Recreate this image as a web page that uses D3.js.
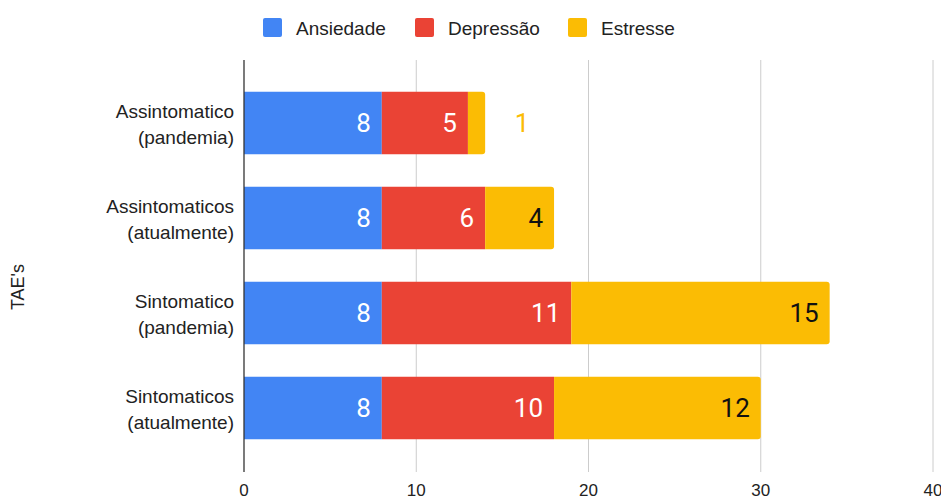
<!DOCTYPE html>
<html>
<head>
<meta charset="utf-8">
<script src="https://cdn.jsdelivr.net/npm/d3@7"></script>
<style>
  body { margin: 0; background: #fff; }
  text { font-family: "Liberation Sans", Arial, sans-serif; }
  .val { font-family: Roboto, "Liberation Sans", sans-serif; }
</style>
</head>
<body>
<div id="vis"></div>
<script>
var categories = [
  ["Assintomatico", "(pandemia)"],
  ["Assintomaticos", "(atualmente)"],
  ["Sintomatico", "(pandemia)"],
  ["Sintomaticos", "(atualmente)"]
];
var seriesNames = ["Ansiedade", "Depressão", "Estresse"];
var ansiedade = [8, 8, 8, 8];
var depressao = [5, 6, 11, 10];
var estresse = [1, 4, 15, 12];
var xTicks = [0, 10, 20, 30, 40];

var colors = ["#4285f4", "#ea4335", "#fbbc04"],
    labelColors = ["#fff", "#fff", "#111"],
    w = 941, h = 501;

var rows = categories.map(function(c, i) {
  return {i: i, a: ansiedade[i], d: depressao[i], e: estresse[i]};
});
var stack = d3.stack().keys(["a", "d", "e"])(rows);

var x = d3.scaleLinear().domain([0, 40]).range([244, 933]);
var y = d3.scaleBand().domain(d3.range(categories.length))
    .range([75.5, 455.5]).paddingInner(0.34).paddingOuter(0.17);

var svg = d3.select("#vis").append("svg")
    .attr("width", w)
    .attr("height", h);

// grid
svg.append("g").selectAll("line")
    .data(xTicks.slice(1))
  .enter().append("line")
    .attr("x1", function(d) { return x(d); })
    .attr("x2", function(d) { return x(d); })
    .attr("y1", 60)
    .attr("y2", 472)
    .attr("stroke", "#ccc")
    .attr("stroke-width", 1);

// bars
stack.forEach(function(layer, k) {
  var g = svg.append("g");
  g.selectAll("path")
      .data(layer)
    .enter().append("path")
      .attr("fill", colors[k])
      .attr("d", function(d) {
        var x0 = x(d[0]), x1 = x(d[1]), y0 = y(d.data.i), bh = y.bandwidth();
        var r = k === 2 ? 3 : 0;
        return "M" + x0 + "," + y0 + "H" + (x1 - r) +
          "Q" + x1 + "," + y0 + " " + x1 + "," + (y0 + r) +
          "V" + (y0 + bh - r) +
          "Q" + x1 + "," + (y0 + bh) + " " + (x1 - r) + "," + (y0 + bh) +
          "H" + x0 + "Z";
      });

  // small segments get their label outside the bar
  g.selectAll("text")
      .data(layer)
    .enter().append("text")
      .attr("class", "val")
      .attr("x", function(d) {
        var wd = x(d[1]) - x(d[0]);
        return wd < 30 ? x(d[1]) + 37 : x(d[1]) - 11;
      })
      .attr("y", function(d) { return y(d.data.i) + y.bandwidth() / 2; })
      .attr("dy", "0.36em")
      .attr("text-anchor", function(d) { return x(d[1]) - x(d[0]) < 30 ? "middle" : "end"; })
      .attr("font-size", 26)
      .attr("fill", function(d) { return x(d[1]) - x(d[0]) < 30 ? colors[k] : labelColors[k]; })
      .text(function(d) { return d[1] - d[0]; });
});

// zero axis line
svg.append("line")
    .attr("x1", x(0)).attr("x2", x(0))
    .attr("y1", 60).attr("y2", 472)
    .attr("stroke", "#333")
    .attr("stroke-width", 1.3);

// x tick labels
svg.append("g").selectAll("text")
    .data(xTicks)
  .enter().append("text")
    .attr("x", function(d) { return x(d); })
    .attr("y", 496)
    .attr("text-anchor", "middle")
    .attr("font-size", 17)
    .attr("fill", "#222")
    .text(function(d) { return d; });

// category labels
var cat = svg.append("g").selectAll("text")
    .data(categories)
  .enter().append("text")
    .attr("x", 234)
    .attr("y", function(d, i) { return y(i) + y.bandwidth() / 2; })
    .attr("text-anchor", "end")
    .attr("font-size", 19)
    .attr("fill", "#222");
cat.append("tspan").attr("x", 234).attr("dy", "-0.25em").text(function(d) { return d[0]; });
cat.append("tspan").attr("x", 234).attr("dy", "1.33em").text(function(d) { return d[1]; });

// y title
svg.append("text")
    .attr("transform", "translate(24,287) rotate(-90)")
    .attr("text-anchor", "middle")
    .attr("font-size", 18)
    .attr("fill", "#222")
    .text("TAE's");

// legend
var legX = [263, 415, 568];
var leg = svg.append("g").selectAll("g")
    .data(seriesNames)
  .enter().append("g")
    .attr("transform", function(d, i) { return "translate(" + legX[i] + ",18)"; });
leg.append("rect")
    .attr("width", 19).attr("height", 19).attr("rx", 2)
    .attr("fill", function(d, i) { return colors[i]; });
leg.append("text")
    .attr("x", 33).attr("y", 10).attr("dy", "0.36em")
    .attr("font-size", 19)
    .attr("fill", "#222")
    .text(function(d) { return d; });
</script>
</body>
</html>
